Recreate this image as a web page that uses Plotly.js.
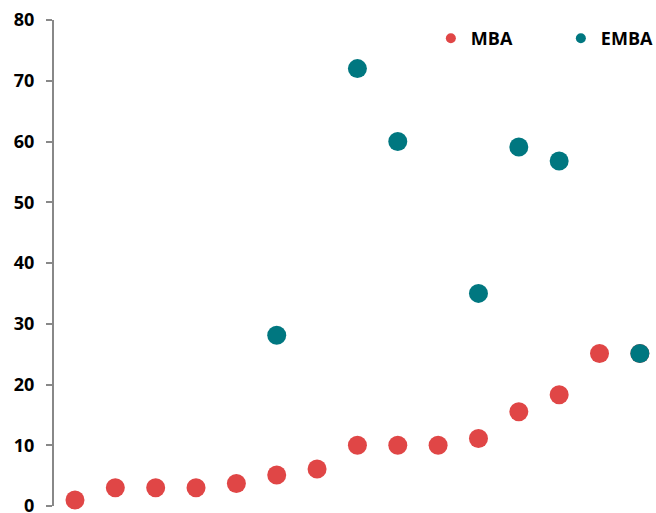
<!DOCTYPE html>
<html>
<head>
<meta charset="utf-8">
<script src="https://cdn.plot.ly/plotly-3.0.1.min.js"></script>
<style>html,body{margin:0;padding:0;background:#fff}#chart{width:656px;height:513px}</style>
</head>
<body>
<div id="chart"></div>
<script>
const positions = [1, 2, 3, 4, 5, 6, 7, 8, 9, 10, 11, 12, 13, 14, 15];
const mbaValues = [1, 3, 3, 3, 3.7, 5.1, 6.1, 10, 10, 10, 11.1, 15.5, 18.3, 25.1, 25.1];
const embaPositions = [6, 8, 9, 11, 12, 13, 15];
const embaValues = [28.1, 72, 60, 35, 59.1, 56.8, 25.1];
const yTicks = [0, 10, 20, 30, 40, 50, 60, 70, 80];

const red = '#E04646';
const teal = '#007780';

const traces = [
  {x: positions, y: mbaValues, type: 'scatter', mode: 'markers', name: 'MBA',
   marker: {color: red, size: 19}, showlegend: false, cliponaxis: false, hoverinfo: 'x+y'},
  {x: embaPositions, y: embaValues, type: 'scatter', mode: 'markers', name: 'EMBA',
   marker: {color: teal, size: 19}, showlegend: false, cliponaxis: false, hoverinfo: 'x+y'},
  {x: [null], y: [null], type: 'scatter', mode: 'markers', name: 'MBA',
   marker: {color: red, size: 10}},
  {x: [null], y: [null], type: 'scatter', mode: 'markers', name: 'EMBA',
   marker: {color: teal, size: 10}}
];

const layout = {
  width: 656, height: 513,
  margin: {l: 54, r: 0, t: 20, b: 7, autoexpand: false},
  paper_bgcolor: '#fff', plot_bgcolor: '#fff',
  font: {family: '"Open Sans", sans-serif', size: 18, color: '#000', weight: 'bold'},
  xaxis: {range: [0.48, 15.4], visible: false, showgrid: false, zeroline: false, fixedrange: true},
  yaxis: {range: [0, 80], tickvals: yTicks, ticktext: yTicks.map(String),
          showline: true, linecolor: '#888', linewidth: 2,
          ticks: 'outside', ticklen: 6, tickwidth: 2, tickcolor: '#888',
          showgrid: false, zeroline: false, ticklabelstandoff: 8, automargin: false,
          ticklabeloverflow: 'allow',
          tickfont: {family: '"Open Sans", sans-serif', size: 18, color: '#000', weight: 'bold'}},
  showlegend: true,
  legend: {orientation: 'h', x: 0.626, xanchor: 'left', y: 1.0, yanchor: 'top',
           entrywidth: 85, entrywidthmode: 'pixels', bgcolor: 'rgba(0,0,0,0)',
           font: {family: '"Open Sans", sans-serif', size: 18, color: '#000', weight: 'bold'}}
};

Plotly.newPlot('chart', traces, layout, {displayModeBar: false, staticPlot: true});
</script>
</body>
</html>
